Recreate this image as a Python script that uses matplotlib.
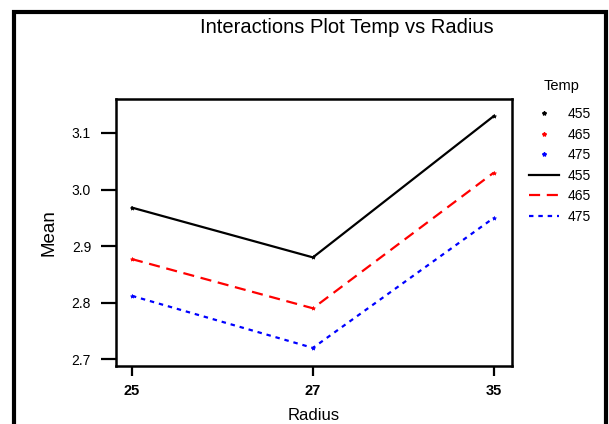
import matplotlib.pyplot as plt
from matplotlib.lines import Line2D
from matplotlib.patches import Rectangle

plt.rcParams['font.family'] = ['Liberation Sans', 'DejaVu Sans']

radius = ['25', '27', '35']
temps = ['455', '465', '475']
mean_455 = [2.968, 2.880, 3.130]
mean_465 = [2.877, 2.790, 3.030]
mean_475 = [2.812, 2.720, 2.950]

colors = ['black', 'red', 'blue']
styles = ['-', (0, (5, 3)), (0, (2, 2.2))]

fig = plt.figure(figsize=(6.09, 4.24), dpi=100)
ax = fig.add_axes([0.1905, 0.1368, 0.6502, 0.6297])

x = list(range(len(radius)))
for ys, c, ls in zip([mean_455, mean_465, mean_475], colors, styles):
    ax.plot(x, ys, color=c, linestyle=ls, linewidth=1.6,
            marker='*', markersize=3, markeredgewidth=0.5)

ax.set_xlim(-0.088, 2.1)
ax.set_ylim(2.688, 3.16)
ax.set_xticks(x)
ax.set_xticklabels(radius, fontweight='bold', fontsize=10.5)
ax.set_yticks([2.7, 2.8, 2.9, 3.0, 3.1])
ax.set_yticklabels(['2.7', '2.8', '2.9', '3.0', '3.1'], fontsize=10)
ax.tick_params(axis='y', length=11, width=1.6, pad=7)
ax.tick_params(axis='x', length=7, width=1.6, pad=6)
for s in ax.spines.values():
    s.set_linewidth(1.8)

ax.set_xlabel('Radius', fontsize=12, labelpad=7)
ax.set_ylabel('Mean', fontsize=13.5, labelpad=10)
fig.text(0.57, 0.935, 'Interactions Plot Temp vs Radius', ha='center', va='center', fontsize=14.5)

handles = []
for c in colors:
    handles.append(Line2D([], [], color=c, linestyle='none', marker='*', markersize=3))
for c, ls in zip(colors, styles):
    handles.append(Line2D([], [], color=c, linestyle=ls, linewidth=1.6))
fig.text(562 / 609, 1 - 86 / 424, 'Temp', ha='center', va='center', fontsize=10.5)
leg = fig.legend(handles, temps + temps, loc='upper left',
                 bbox_to_anchor=(0.848, 0.777), frameon=False, fontsize=10,
                 handlelength=2.15, labelspacing=0.47, handletextpad=0.65)

# outer frame around the whole graph
fig.patches.append(Rectangle((14 / 609, -0.05), 592 / 609, 1.05 - 12 / 424,
                             transform=fig.transFigure, fill=False,
                             edgecolor='black', linewidth=3))

fig.savefig('out.png', dpi=100)
